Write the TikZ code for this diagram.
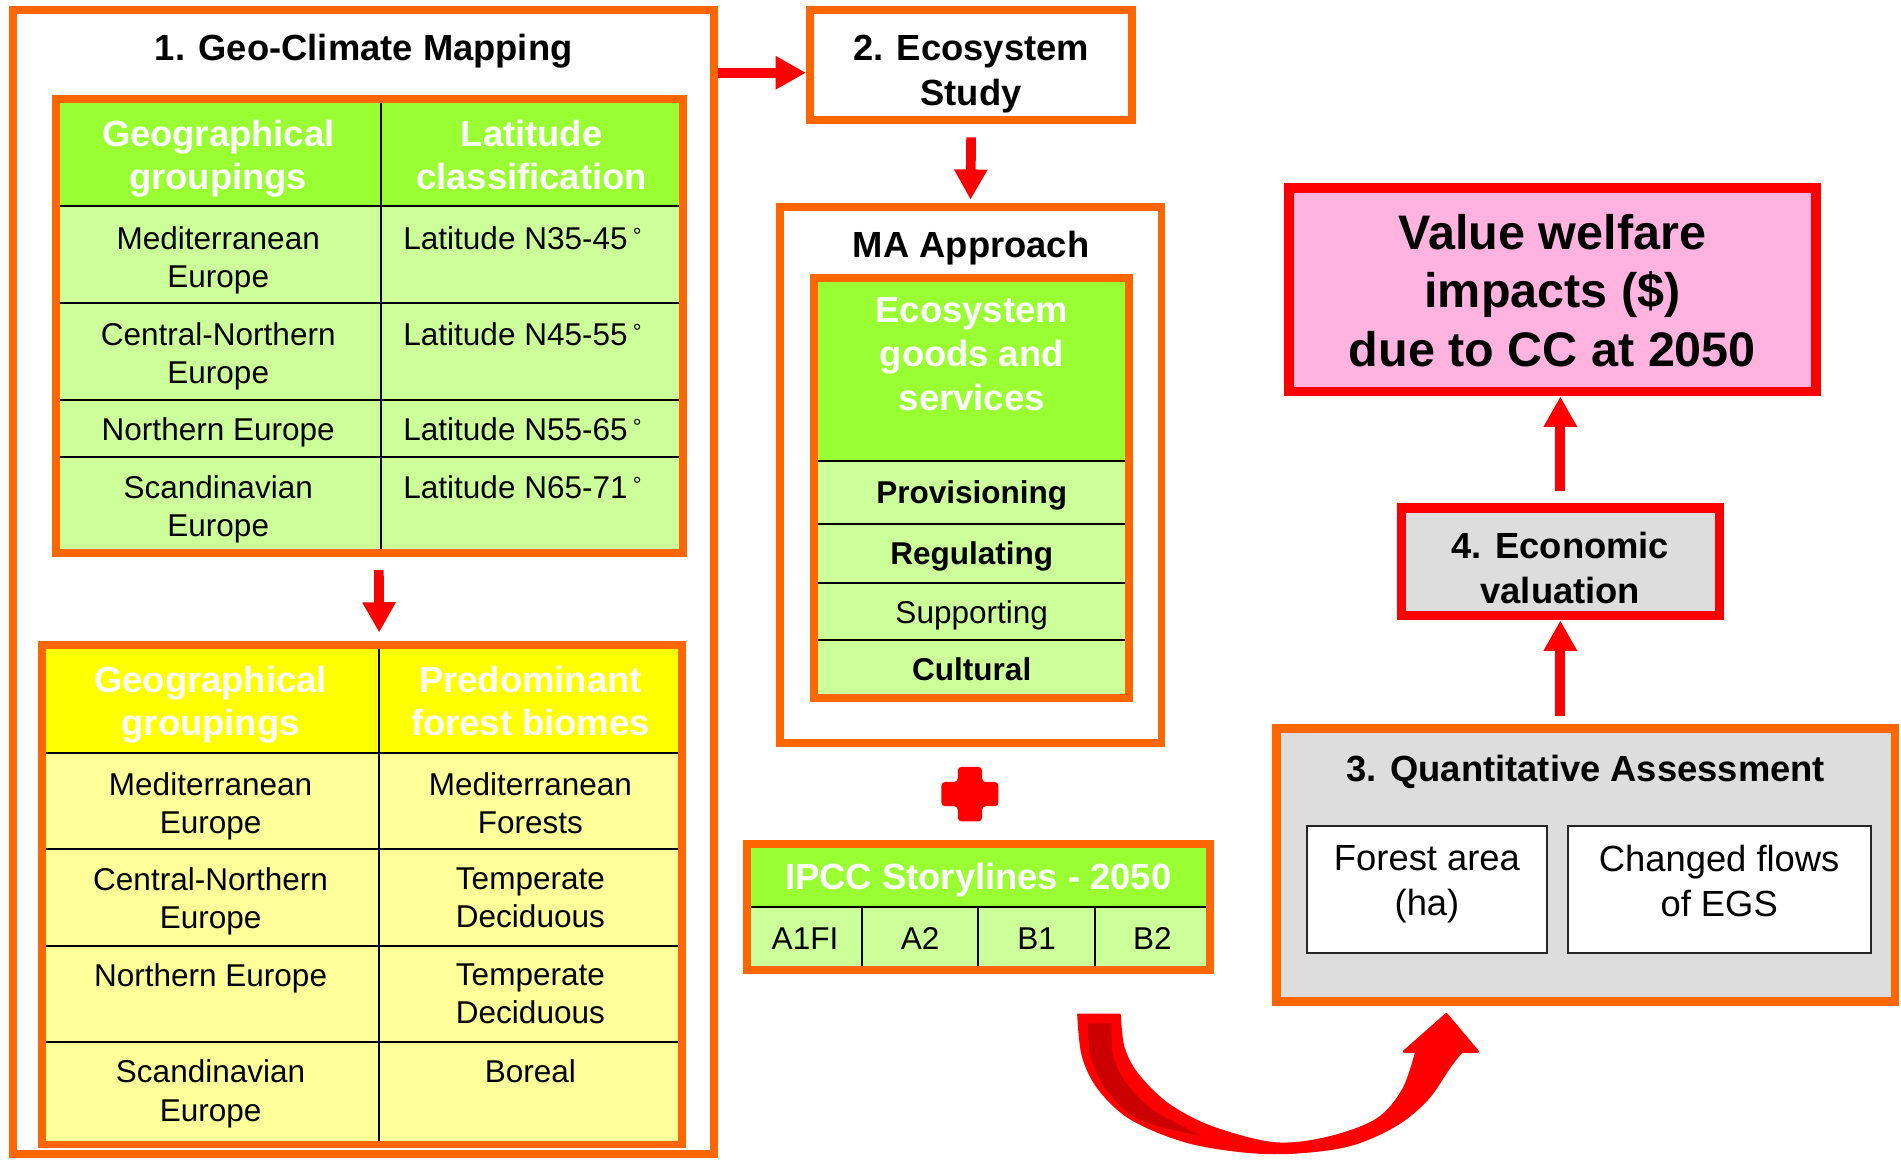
\documentclass[tikz,border=0pt]{standalone}
\usepackage{fontspec}
\setmainfont{Liberation Sans}
\usepackage{tikz}
\usetikzlibrary{arrows.meta, positioning}
\definecolor{FrameOrange}{HTML}{FF6600}
\definecolor{HeadGreen}{HTML}{99FF33}
\definecolor{CellGreen}{HTML}{CCFF99}
\definecolor{HeadYellow}{HTML}{FFFF00}
\definecolor{CellYellow}{HTML}{FFFF99}
\definecolor{PanelGray}{HTML}{DDDDDD}
\definecolor{ValuePink}{HTML}{FFB3DE}
\definecolor{ArrowRed}{HTML}{FF0000}
\definecolor{ArrowDark}{HTML}{CC0000}
\newcommand{\degsign}{\,\raisebox{4.6pt}{\fontsize{18}{18}\selectfont °}}

\begin{document}
\begin{tikzpicture}[x=1pt, y=-1pt]
\tikzset{
  orangeframe/.style={draw=FrameOrange, line width=6.5pt, inner sep=0pt},
  redframe/.style={draw=ArrowRed, line width=7.5pt, inner sep=0pt},
  gridline/.style={black, line width=1.8pt},
  headtext/.style={text=white, font=\fontsize{30}{36}\selectfont\bfseries, align=center, inner sep=0pt},
  celltext/.style={font=\fontsize{26}{31.5}\selectfont, align=center, inner sep=0pt},
  titletext/.style={font=\fontsize{30}{37}\selectfont\bfseries, align=center, inner sep=0pt},
  redarrow/.style={draw=ArrowRed, line width=8pt, -{Triangle[length=25pt, width=26pt]}},
}
  \useasboundingbox (0,0) rectangle (1568,956);
  \fill[white] (0,0) rectangle (1568,956);

  % Step 1: geo-climate mapping (left panel)
  \node[orangeframe, minimum width=578pt, minimum height=944pt] (geo) at (300,480) {};
  \node[titletext, anchor=base] (geoTitle) at (300,50) {1. Geo-Climate Mapping};

  % Table A: groupings vs latitude
  \fill[HeadGreen] (46,82) rectangle (563,170);
  \fill[CellGreen] (46,170) rectangle (563,456);
  \foreach \y in {170,250,330,377}
    \draw[gridline] (46,\y) -- (563,\y);
  \draw[gridline] (314,82) -- (314,456);
  \node[orangeframe, minimum width=517pt, minimum height=374pt] (latTab) at (304.5,269) {};
  \node[headtext, anchor=north] (latHeadGeo) at (180,98.5) {Geographical\\groupings};
  \node[headtext, anchor=north] (latHeadLat) at (438.5,98.5) {Latitude\\classification};
  \node[celltext, anchor=north] (latMed) at (180,186.8) {Mediterranean\\Europe};
  \node[celltext, anchor=north] (latCen) at (180,265.6) {Central-Northern\\Europe};
  \node[celltext, anchor=north] (latNor) at (180,344.2) {Northern Europe};
  \node[celltext, anchor=north] (latSca) at (180,392.1) {Scandinavian\\Europe};
  \node[celltext, anchor=north] (latMedN) at (431,186.8) {Latitude N35-45\degsign};
  \node[celltext, anchor=north] (latCenN) at (431,265.6) {Latitude N45-55\degsign};
  \node[celltext, anchor=north] (latNorN) at (431,344.2) {Latitude N55-65\degsign};
  \node[celltext, anchor=north] (latScaN) at (431,392.1) {Latitude N65-71\degsign};

  % Table B: groupings vs forest biomes
  \fill[HeadYellow] (35,532) rectangle (562.5,621);
  \fill[CellYellow] (35,621) rectangle (562.5,944);
  \foreach \y in {621,700.6,780,859.4}
    \draw[gridline] (35,\y) -- (562.5,\y);
  \draw[gridline] (312.5,532) -- (312.5,944);
  \node[orangeframe, minimum width=527.5pt, minimum height=412pt] (bioTab) at (298.75,738) {};
  \node[headtext, anchor=north] (bioHeadGeo) at (173.7,549.1) {Geographical\\groupings};
  \node[headtext, anchor=north] (bioHeadFor) at (437.5,549.1) {Predominant\\forest biomes};
  \node[celltext, anchor=north] (bioMed) at (173.7,637.1) {Mediterranean\\Europe};
  \node[celltext, anchor=north] (bioCen) at (173.7,715.7) {Central-Northern\\Europe};
  \node[celltext, anchor=north] (bioNor) at (173.7,794.4) {Northern Europe};
  \node[celltext, anchor=north] (bioSca) at (173.7,874.2) {Scandinavian\\Europe};
  \node[celltext, anchor=north] (bioMedF) at (437.5,637.1) {Mediterranean\\Forests};
  \node[celltext, anchor=north] (bioCenF) at (437.5,715.7) {Temperate\\Deciduous};
  \node[celltext, anchor=north] (bioNorF) at (437.5,794.4) {Temperate\\Deciduous};
  \node[celltext, anchor=north] (bioScaF) at (437.5,874.2) {Boreal};

  \draw[redarrow] ([xshift=8pt,yshift=-11pt]latTab.south) -- ([xshift=14pt,yshift=7pt]bioTab.north);

  % Step 2: ecosystem study and MA approach (middle)
  \node[orangeframe, minimum width=266pt, minimum height=91pt] (eco) at (801,53.5) {};
  \node[titletext, anchor=north] (ecoTitle) at (801,28.5) {2. Ecosystem\\Study};
  \coordinate (ecoIn) at ([yshift=-6.5pt]eco.west);
  \draw[redarrow] (geo.east |- ecoIn) -- (ecoIn);

  \node[orangeframe, minimum width=315pt, minimum height=442pt] (ma) at (800.5,392) {};
  \node[titletext, anchor=base] (maTitle) at (801,212) {MA Approach};
  \draw[redarrow] ([yshift=-11pt]eco.south) -- ([yshift=3pt]ma.north);

  \fill[HeadGreen] (671.5,229.5) rectangle (931.5,380);
  \fill[CellGreen] (671.5,380) rectangle (931.5,576);
  \foreach \y in {380,432,481,528}
    \draw[gridline, line width=1.5pt] (671.5,\y) -- (931.5,\y);
  \node[orangeframe, minimum width=260pt, minimum height=346.5pt] (egs) at (801.5,402.75) {};
  \node[headtext, anchor=north] (egsHead) at (801.5,245.5) {Ecosystem\\goods and\\services};
  \node[celltext, font=\fontsize{26}{31.5}\selectfont\bfseries, anchor=base] (egsProv) at (801.5,415.3) {Provisioning};
  \node[celltext, font=\fontsize{26}{31.5}\selectfont\bfseries, anchor=base] (egsReg) at (801.5,466) {Regulating};
  \node[celltext, anchor=base] (egsSup) at (801.5,514) {Supporting};
  \node[celltext, font=\fontsize{26}{31.5}\selectfont\bfseries, anchor=base] (egsCul) at (801.5,561) {Cultural};

  % Plus sign between MA approach and storylines
  \fill[ArrowRed, rounded corners=3pt] (790,632.5) -- (810,632.5) -- (810,645) -- (823.5,645)
    -- (823.5,665) -- (810,665) -- (810,677.5) -- (790,677.5) -- (790,665) -- (776.5,665)
    -- (776.5,645) -- (790,645) -- cycle;

  % IPCC storylines table
  \fill[HeadGreen] (616,696) rectangle (998,748);
  \fill[CellGreen] (616,748) rectangle (998,800);
  \draw[gridline] (616,748) -- (998,748);
  \foreach \x in {711,807,903}
    \draw[gridline] (\x,748) -- (\x,800);
  \node[orangeframe, minimum width=382pt, minimum height=104pt] (ipcc) at (807,748) {};
  \node[headtext, anchor=base] (ipccHead) at (807,734) {IPCC Storylines - 2050};
  \node[celltext, anchor=base] (ipccA1) at (664,783) {A1FI};
  \node[celltext, anchor=base] (ipccA2) at (759,783) {A2};
  \node[celltext, anchor=base] (ipccB1) at (855,783) {B1};
  \node[celltext, anchor=base] (ipccB2) at (950.5,783) {B2};

  % Curved block arrow: storylines feed the assessment
  \filldraw[ArrowRed, line width=2pt, line join=round]
    plot[smooth, tension=0.55] coordinates {(889.5,837) (893.4,871.5) (907.2,899) (934.7,923.7)
      (984.2,943) (1047.4,951) (1107.9,945.7) (1149.1,929.2) (1176.6,907.2) (1195.8,879.7) (1205.5,867.4)}
    -- (1219,867.4) -- (1193,836.5) -- (1158,867.4)
    -- plot[smooth, tension=0.55] coordinates {(1168.3,867.4) (1157.3,899) (1135.4,923.7) (1094.1,938.8)
      (1050.2,943) (997.9,929.2) (962.2,910) (937.4,885.2) (926.4,863.2) (923.5,837)}
    -- cycle;
  \fill[ArrowDark]
    plot[smooth, tension=0.55] coordinates {(897.6,844) (899.5,871.5) (912.7,899) (940.2,923.7) (992.4,937.5)}
    -- plot[smooth, tension=0.55] coordinates {(992.4,937.5) (951.2,915.5) (929.2,893.5) (918.2,871.5) (916.8,844)}
    -- cycle;

  % Step 3: quantitative assessment (bottom right)
  \node[orangeframe, line width=7pt, fill=PanelGray, minimum width=510pt, minimum height=225pt] (quant) at (1308,713.5) {};
  \node[titletext, anchor=base] (quantTitle) at (1308,645) {3. Quantitative Assessment};
  \node[draw=black!85, line width=1.5pt, fill=white, inner sep=0pt, minimum width=198pt, minimum height=105pt] (forest) at (1177,733.5) {};
  \node[draw=black!85, line width=1.5pt, fill=white, inner sep=0pt, minimum width=250pt, minimum height=105pt] (flows) at (1418,733.5) {};
  \node[celltext, font=\fontsize{30}{37}\selectfont, below=17pt] (forestText) at (forest.north) {Forest area\\(ha)};
  \node[celltext, font=\fontsize{30}{37}\selectfont, below=17pt] (flowsText) at (flows.north) {Changed flows\\of EGS};

  % Step 4: economic valuation and welfare impacts
  \node[redframe, fill=PanelGray, minimum width=262pt, minimum height=89pt] (econ) at (1287,463.5) {};
  \node[titletext, anchor=north] (econTitle) at (1287,438.5) {4. Economic\\valuation};
  \node[redframe, line width=8pt, fill=ValuePink, minimum width=435pt, minimum height=168pt] (value) at (1280.5,239) {};
  \node[titletext, font=\fontsize{40}{48}\selectfont\bfseries, anchor=north] (valueText) at (1280.5,176.7)
    {Value welfare\\impacts (\$)\\due to CC at 2050};

  \coordinate (quantTop) at ([yshift=7pt]quant.north);
  \draw[redarrow] (econ.south |- quantTop) -- (econ.south);
  \draw[redarrow] ([yshift=10pt]econ.north) -- (econ.north |- value.south);

\end{tikzpicture}
\end{document}
